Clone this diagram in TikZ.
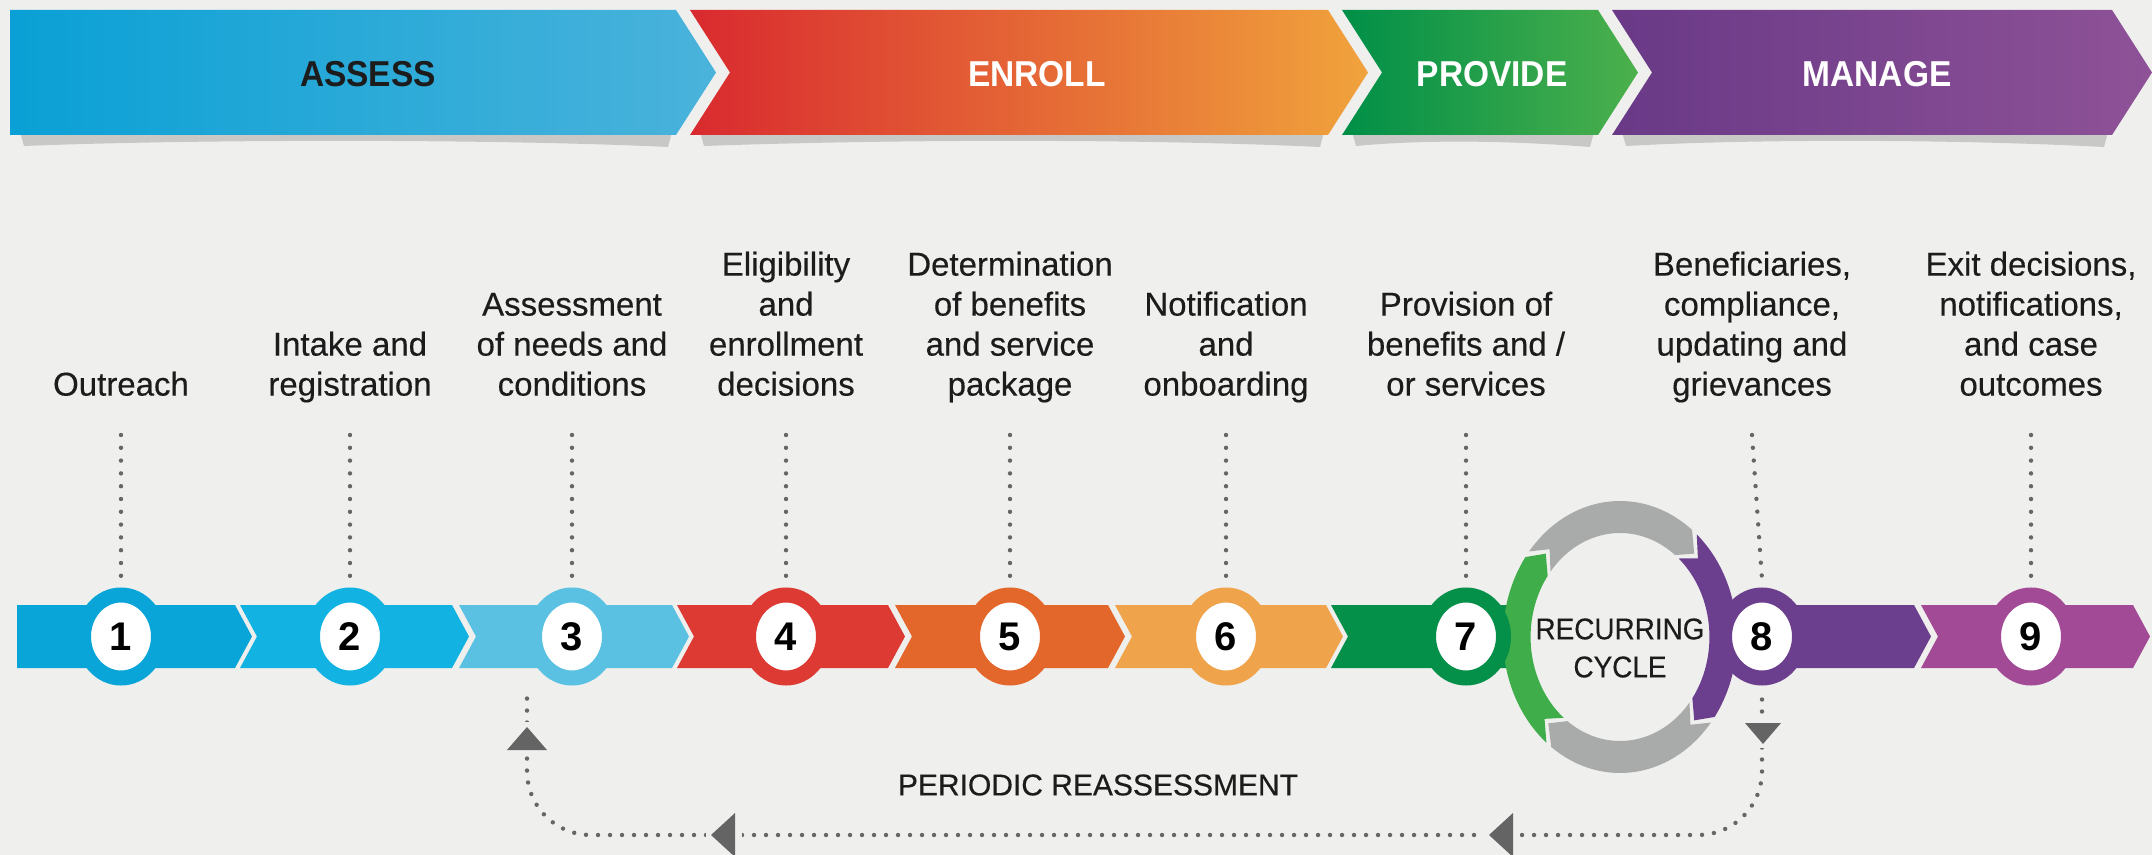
\documentclass[tikz,border=0pt]{standalone}
\usepackage{fontspec}
\setmainfont{Liberation Sans}
\newfontfamily\labfont{Liberation Sans}[FakeBold=0.35]
\usetikzlibrary{calc,shapes.geometric}
\definecolor{bg}{HTML}{EFEFED}
\definecolor{asA}{HTML}{0AA0D5}\definecolor{asB}{HTML}{4AB3DB}
\definecolor{enA}{HTML}{D92A2F}\definecolor{enB}{HTML}{F0A33C}
\definecolor{prA}{HTML}{008F48}\definecolor{prB}{HTML}{4CB04C}
\definecolor{maA}{HTML}{693987}\definecolor{maB}{HTML}{8E5297}
\definecolor{sa}{HTML}{0AA5D8}\definecolor{sb}{HTML}{12B2E2}\definecolor{sc}{HTML}{5BC1E3}
\definecolor{sd}{HTML}{DC3A33}\definecolor{se}{HTML}{E3672A}\definecolor{sf}{HTML}{EFA44C}
\definecolor{sg}{HTML}{05904A}\definecolor{sh}{HTML}{6C3F8E}\definecolor{si}{HTML}{A24A96}
\definecolor{arcgreen}{HTML}{3FAE4A}\definecolor{arcgrey}{HTML}{A9AAAA}
\definecolor{dotgrey}{HTML}{666666}\definecolor{trigrey}{HTML}{646464}
\definecolor{ink}{HTML}{1C1C1C}
\newcommand\cyclearc[3]{%
  \fill[#1] (#2:136) -- plot[domain=#2:#3,samples=40,variable=\t] (\t:136)
    -- ({#3-8}:120) -- (#3:104) -- plot[domain=#3:#2,samples=40,variable=\t] (\t:104)
    -- ({#2-8}:120) -- cycle;}
\begin{document}
\begin{tikzpicture}[x=0.5pt,y=-0.5pt,
  bantext/.style={font=\fontsize{18pt}{20pt}\selectfont\bfseries,inner sep=0,xscale=0.93},
  lab/.style={font=\labfont\fontsize{16.5pt}{20pt}\selectfont,text=ink,align=center,anchor=south,inner sep=0,text depth=4pt},
  badge/.style={ellipse,fill=white,draw=#1,line width=7.5pt,minimum width=37.5pt,minimum height=41.5pt,inner sep=0,
     font=\fontsize{20pt}{22pt}\selectfont\bfseries,text=black},
  dotline/.style={draw=dotgrey,line width=2.2pt,line cap=round,dash pattern=on 0pt off 6.4pt},
  retline/.style={draw=dotgrey,line width=2.2pt,line cap=round,dash pattern=on 0pt off 6pt},
  shade/.style={fill=black,opacity=0.16}]
\fill[bg] (0,0) rectangle (2152,855);
\useasboundingbox (0,0) rectangle (2152,855);
% banner shadows
\fill[shade] (20,132) -- (672,132) -- (668,147) .. controls (500,139) and (200,139) .. (24,146) -- cycle;
\fill[shade] (700,132) -- (1324,132) -- (1320,147) .. controls (1150,139) and (900,139) .. (704,146) -- cycle;
\fill[shade] (1352,132) -- (1594,132) -- (1590,147) .. controls (1500,140) and (1420,140) .. (1356,146) -- cycle;
\fill[shade] (1622,132) -- (2108,132) -- (2104,147) .. controls (1950,139) and (1750,139) .. (1626,146) -- cycle;
% banner
\path[left color=asA,right color=asB] (10,10) -- (676,10) -- (716,72.5) -- (676,135) -- (10,135) -- cycle;
\path[left color=enA,right color=enB] (690,10) -- (1328,10) -- (1368,72.5) -- (1328,135) -- (690,135) -- (730,72.5) -- cycle;
\path[left color=prA,right color=prB] (1342,10) -- (1598,10) -- (1638,72.5) -- (1598,135) -- (1342,135) -- (1382,72.5) -- cycle;
\path[left color=maA,right color=maB] (1612,10) -- (2112,10) -- (2152,72.5) -- (2112,135) -- (1612,135) -- (1652,72.5) -- cycle;
\node[bantext,text=ink] (tA) at (368,74) {ASSESS};
\node[bantext,text=white] (tE) at (1037,74) {ENROLL};
\node[bantext,text=white] (tP) at (1492,74) {PROVIDE};
\node[bantext,text=white] (tM) at (1877,74) {MANAGE};
% labels
\node[lab] (l1) at (121,404) {Outreach};
\node[lab] (l2) at (350,404) {Intake and\\registration};
\node[lab] (l3) at (572,404) {Assessment\\of needs and\\conditions};
\node[lab] (l4) at (786,404) {Eligibility\\and\\enrollment\\decisions};
\node[lab] (l5) at (1010,404) {Determination\\of benefits\\and service\\package};
\node[lab] (l6) at (1226,404) {Notification\\and\\onboarding};
\node[lab] (l7) at (1466,404) {Provision of\\benefits and /\\or services};
\node[lab] (l8) at (1752,404) {Beneficiaries,\\compliance,\\updating and\\grievances};
\node[lab] (l9) at (2031,404) {Exit decisions,\\notifications,\\and case\\outcomes};
% band
\fill[sa] (17,605) -- (235,605) -- (252,636.5) -- (235,668) -- (17,668) -- cycle;
\fill[sb] (240,605) -- (452,605) -- (469,636.5) -- (452,668) -- (240,668) -- (257,636.5) -- cycle;
\fill[sc] (459,605) -- (672,605) -- (689,636.5) -- (672,668) -- (459,668) -- (476,636.5) -- cycle;
\fill[sd] (677,605) -- (888,605) -- (905,636.5) -- (888,668) -- (677,668) -- (694,636.5) -- cycle;
\fill[se] (895,605) -- (1108,605) -- (1125,636.5) -- (1108,668) -- (895,668) -- (912,636.5) -- cycle;
\fill[sf] (1115,605) -- (1326,605) -- (1343,636.5) -- (1326,668) -- (1115,668) -- (1132,636.5) -- cycle;
\fill[sg] (1331,605) -- (1515,605) -- (1515,668) -- (1331,668) -- (1348,636.5) -- cycle;
\fill[sh] (1722,605) -- (1914,605) -- (1931,636.5) -- (1914,668) -- (1722,668) -- cycle;
\fill[si] (1921,605) -- (2133,605) -- (2150,636.5) -- (2133,668) -- (1921,668) -- (1938,636.5) -- cycle;
% recurring cycle
\begin{scope}[shift={(1620,637)},yscale=-1,xscale=0.86]
  \cyclearc{arcgreen}{231}{144}
  \cyclearc{arcgrey}{141}{52}
  \cyclearc{sh}{49}{-36}
  \cyclearc{arcgrey}{-39}{-126}
\end{scope}
\node[font=\labfont\fontsize{15pt}{19pt}\selectfont,text=ink,align=center,inner sep=0,xscale=0.93] (cyc) at (1620,648) {RECURRING\\CYCLE};
% badges
\node[badge=sa] (b1) at (121,636.5) {1};
\node[badge=sb] (b2) at (350,636.5) {2};
\node[badge=sc] (b3) at (572,636.5) {3};
\node[badge=sd] (b4) at (786,636.5) {4};
\node[badge=se] (b5) at (1010,636.5) {5};
\node[badge=sf] (b6) at (1226,636.5) {6};
\node[badge=sg] (b7) at (1466,636.5) {7};
\node[badge=sh] (b8) at (1762,636.5) {8};
\node[badge=si] (b9) at (2031,636.5) {9};
% dotted leaders
\foreach \i in {1,...,9}{
  \draw[dotline] ($(l\i.south)+(0,31)$) -- ($(b\i.north)+(0,-8)$);}
% periodic reassessment
\coordinate (rs) at ($(b8.south)+(0,14)$);
\coordinate (rb) at (1762,835);
\coordinate (lb) at (527,835);
\coordinate (le) at (527,692);
\draw[retline,rounded corners=32pt] (rs) -- (rb) -- (lb) -- (le);
\fill[bg] (1744,718) rectangle (1782,748);
\fill[trigrey] (1745,723) -- (1781,723) -- (1763,744) -- cycle;
\fill[bg] (505,722) rectangle (549,754);
\fill[trigrey] (507,750) -- (547,750) -- (527,727) -- cycle;
\fill[bg] (706,820) rectangle (742,850);
\fill[trigrey] (711,835) -- (735,813) -- (735,857) -- cycle;
\fill[bg] (1484,820) rectangle (1520,850);
\fill[trigrey] (1489,835) -- (1513,813) -- (1513,857) -- cycle;
\node[font=\labfont\fontsize{15pt}{17pt}\selectfont,text=ink,inner sep=0] (pr) at (1098,785) {PERIODIC REASSESSMENT};
\end{tikzpicture}
\end{document}
